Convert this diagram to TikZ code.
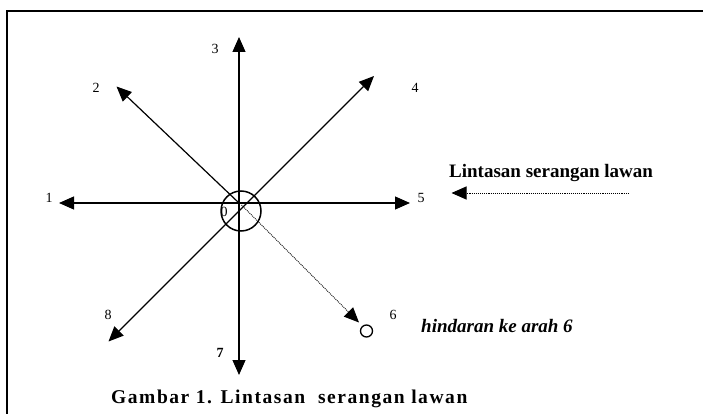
\documentclass[tikz,border=0pt]{standalone}
\usepackage{fontspec}
\setmainfont{Liberation Serif}
\usetikzlibrary{arrows.meta}
\tikzset{
  arr/.style={line width=1.2pt, -{Triangle[length=15pt,width=13pt]}},
  darr/.style={line width=1.2pt, {Triangle[length=15pt,width=13pt]}-{Triangle[length=15pt,width=13pt]}},
  dotarr/.style={line width=0.9pt, densely dotted, -{Triangle[length=15pt,width=13pt]}},
  num/.style={inner sep=0pt, font=\fontsize{14}{14}\selectfont},
  big/.style={inner sep=0pt, anchor=base west, font=\fontsize{19}{19}\selectfont\bfseries},
}
\begin{document}
\begin{tikzpicture}[x=1pt,y=-1pt]
\clip (0,0) rectangle (703,414);
\fill[white] (0,0) rectangle (703,414);
% frame
\draw[line width=1.2pt] (7,430) -- (7,11) -- (710,11);
% coordinates
\coordinate (O) at (239,203);
\coordinate (t1) at (59,203);
\coordinate (t5) at (410,203);
\coordinate (t3) at (239,37);
\coordinate (t7) at (239,375);
\coordinate (t2) at (116.5,86.5);
\coordinate (t4) at (374,76);
\coordinate (t8) at (108.5,341.5);
\coordinate (d0) at (241.5,205);
\coordinate (t6) at (359,322.5);
% center circle and small circle
\node[draw, circle, line width=1.5pt, minimum size=40pt, inner sep=0pt] (C) at (241,211) {};
\node[draw, circle, line width=1.3pt, minimum size=12pt, inner sep=0pt] (s6) at (366.5,331) {};
% arrows
\draw[darr] (t1) -- (t5);
\draw[darr] (t7) -- (t3);
\draw[darr] (t8) -- (t4);
\draw[arr] (O) -- (t2);
\draw[dotarr] (d0) -- (t6);
% labels
\node[num] (l1) at (49,198) {1};
\node[num] (l2) at (96,88) {2};
\node[num] (l3) at (215,49) {3};
\node[num] (l4) at (415,88) {4};
\node[num] (l5) at (421,198) {5};
\node[num] (l6) at (393,315) {6};
\node[num, font=\fontsize{14}{14}\selectfont\bfseries] (l7) at (220,353) {7};
\node[num] (l8) at (108,315) {8};
\node[num] (l0) at (224,212) {0};
% texts
\node[big] (lin) at (449,177) {Lintasan serangan lawan};
\coordinate (ltail) at (629,193);
\coordinate (ltip) at (451.5,193);
\draw[dotarr] (ltail) -- (ltip);
\node[big, font=\fontsize{19}{19}\selectfont\bfseries\itshape] (hind) at (421,332) {hindaran ke arah 6};
\node[big, font=\fontsize{19.5}{19.5}\selectfont\bfseries\addfontfeature{LetterSpace=8}] (cap) at (111,403) {Gambar 1. Lintasan\ \ serangan lawan};
\end{tikzpicture}
\end{document}
